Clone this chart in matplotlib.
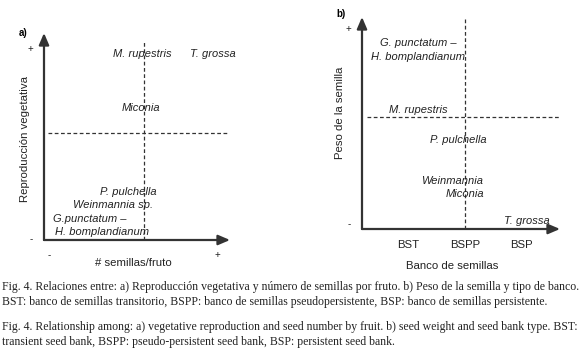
import matplotlib
matplotlib.use("Agg")
import matplotlib.pyplot as plt

plt.rcParams['font.family'] = ['Liberation Sans', 'DejaVu Sans']

# panel a: vegetative reproduction vs seeds per fruit (conceptual positions, 0-1)
a_species = ["M. rupestris", "T. grossa", "Miconia", "P. pulchella",
             "Weinmannia sp.", "G.punctatum \u2013", "H. bomplandianum"]
a_x = [0.527, 0.909, 0.522, 0.452, 0.371, 0.048, 0.059]
a_y = [0.899, 0.899, 0.638, 0.232, 0.169, 0.101, 0.039]
a_ha = ["center", "center", "center", "center", "center", "left", "left"]
a_vsplit, a_hsplit = 0.538, 0.517

# panel b: seed weight vs seed bank type
b_species = ["G. punctatum \u2013", "H. bomplandianum", "M. rupestris",
             "P. pulchella", "Weinmannia", "Miconia", "T. grossa"]
b_x = [0.283, 0.283, 0.283, 0.485, 0.455, 0.52, 0.833]
b_y = [0.877, 0.811, 0.561, 0.42, 0.226, 0.165, 0.038]
b_vsplit, b_hsplit = 0.52, 0.528
bank_types = ["BST", "BSPP", "BSP"]
bank_pos = [0.232, 0.52, 0.803]

caption = [
    "Fig. 4. Relaciones entre: a) Reproducci\u00f3n vegetativa y n\u00famero de semillas por fruto. b) Peso de la semilla y tipo de banco.",
    "BST: banco de semillas transitorio, BSPP: banco de semillas pseudopersistente, BSP: banco de semillas persistente.",
    "Fig. 4. Relationship among: a) vegetative reproduction and seed number by fruit. b) seed weight and seed bank type. BST:",
    "transient seed bank, BSPP: pseudo-persistent seed bank, BSP: persistent seed bank.",
]

fig = plt.figure(figsize=(5.8, 3.57), dpi=100)
W, H = 580, 357


def make_axes(left, top, right, bottom):
    ax = fig.add_axes([left / W, 1 - bottom / H, (right - left) / W, (bottom - top) / H])
    ax.set_xlim(0, 1)
    ax.set_ylim(0, 1)
    for s in ax.spines.values():
        s.set_visible(False)
    ax.patch.set_alpha(0)
    ax.tick_params(length=0, labelsize=7, colors='#222222')
    arrow = dict(arrowstyle='-|>,head_length=0.7,head_width=0.3', color='#333333', lw=1.6,
                 shrinkA=0, shrinkB=0)
    ax.annotate('', xy=(0, 1), xytext=(0, 0), arrowprops=arrow, annotation_clip=False)
    ax.annotate('', xy=(1, 0), xytext=(0, 0), arrowprops=arrow, annotation_clip=False)
    return ax


txt = dict(fontsize=8, style='italic', color='#222222')
dash = dict(color='#333333', lw=0.9, ls=(0, (3, 2)))
lab = dict(fontsize=8.2, color='#222222')

# ---- panel a
ax = make_axes(44, 33, 230, 240)
ax.plot([a_vsplit, a_vsplit], [0, 0.966], **dash)
ax.plot([0.02, 0.995], [a_hsplit, a_hsplit], **dash)
for name, x, y, ha in zip(a_species, a_x, a_y, a_ha):
    ax.text(x, y, name, ha=ha, va='center', **txt)
ax.set_xticks([0.027, 0.93], ['-', '+'])
ax.set_yticks([0.01, 0.928], ['-', '+'])
ax.tick_params(axis='x', pad=7)
ax.tick_params(axis='y', pad=8)
ax.set_xlabel('# semillas/fruto', **lab)
ax.xaxis.set_label_coords(0.478, -0.087)
ax.set_ylabel('Reproducci\u00f3n vegetativa', **lab)
ax.yaxis.set_label_coords(-0.075, 0.49)
ax.text(-0.113, 1.0, 'a)', fontsize=7, fontweight='bold', ha='center', va='center')

# ---- panel b
ax = make_axes(362, 17, 560, 229)
ax.plot([b_vsplit, b_vsplit], [0, 0.995], **dash)
ax.plot([0.025, 1.0], [b_hsplit, b_hsplit], **dash)
for name, x, y in zip(b_species, b_x, b_y):
    ax.text(x, y, name, ha='center', va='center', **txt)
ax.set_xticks(bank_pos, bank_types)
ax.set_yticks([0.028, 0.948], ['-', '+'])
ax.tick_params(axis='x', pad=8, labelsize=8.2)
ax.tick_params(axis='y', pad=8)
ax.set_xlabel('Banco de semillas', **lab)
ax.xaxis.set_label_coords(0.455, -0.151)
ax.set_ylabel('Peso de la semilla', **lab)
ax.yaxis.set_label_coords(-0.086, 0.547)
ax.text(-0.106, 1.014, 'b)', fontsize=7, fontweight='bold', ha='center', va='center')

# ---- caption
cap_y = [287, 302, 327, 342]
for line, y in zip(caption, cap_y):
    fig.text(2 / W, 1 - y / H, line, fontsize=8.5, family='Liberation Serif',
             ha='left', va='center', color='#222222')

fig.savefig('out.png', dpi=100)
